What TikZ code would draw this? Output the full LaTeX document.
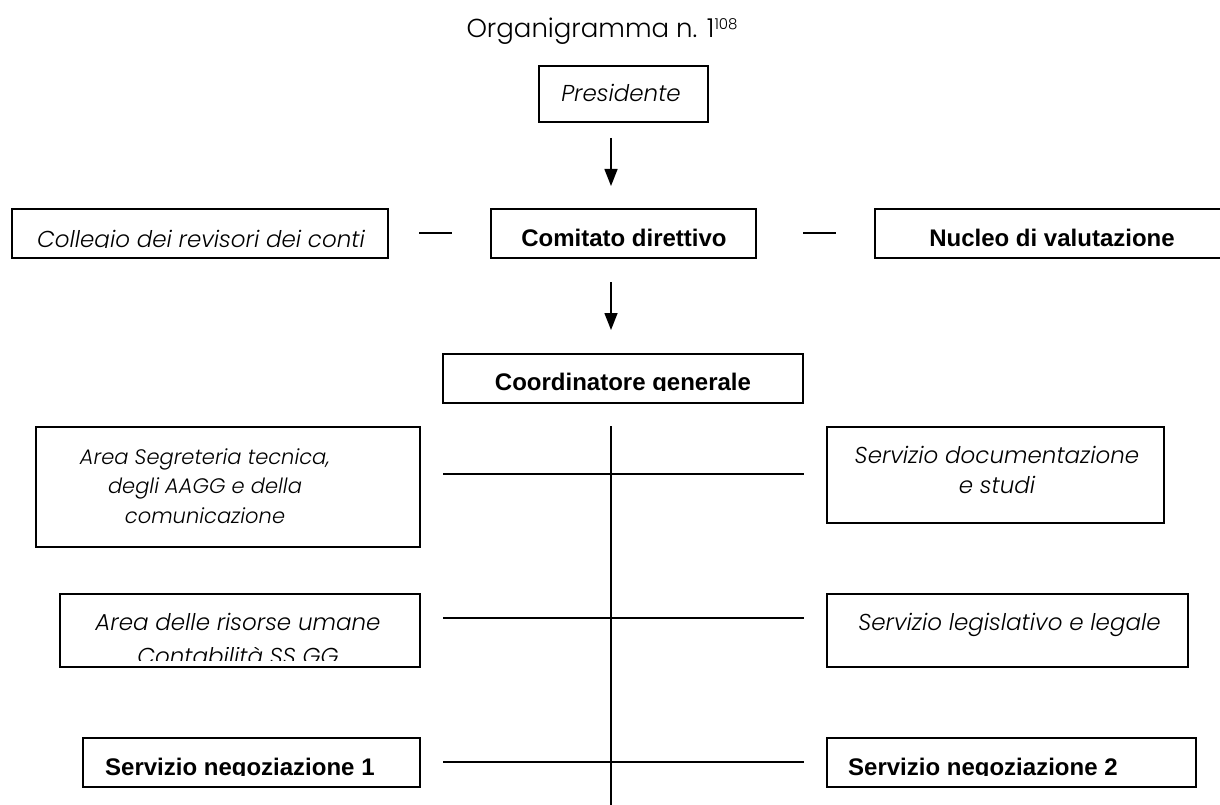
\documentclass[tikz,border=0pt]{standalone}
\usepackage{fontspec}
\usepackage{trimclip}
\usetikzlibrary{arrows.meta}
\newfontfamily\gothic{Poppins Light}[ItalicFont={Poppins Light Italic}]
\newfontfamily\arial{Liberation Sans}
\newcommand{\cutg}[1]{\clipbox{0pt {\depth} 0pt 0pt}{#1}}
\newcommand{\cutb}[2]{\clipbox{0pt #1 0pt 0pt}{#2}}
\begin{document}
\begin{tikzpicture}[x=1pt,y=-1pt,
  box/.style={draw, line width=1.4pt, inner sep=0pt},
  conn/.style={line width=1.5pt},
  arr/.style={line width=1.5pt, -{Triangle[width=13pt,length=17pt]}},
  itx/.style={font=\gothic\itshape\fontsize{23}{30}\selectfont, align=center, inner sep=0pt},
  itsmall/.style={font=\gothic\itshape\fontsize{21}{29.5}\selectfont, align=center, inner sep=0pt},
  bfx/.style={font=\arial\bfseries\fontsize{24}{30}\selectfont, inner sep=0pt},
]
\useasboundingbox (0,0) rectangle (1220,805);
\node[font=\gothic\fontsize{26}{30}\selectfont, anchor=base, inner sep=0pt] (title) at (602,38) {Organigramma n. 1\raisebox{8pt}{\fontsize{15}{15}\selectfont 108}};

% boxes
\node[box, minimum width=169pt, minimum height=56pt] (pres) at (623.5,94) {};
\node[itx] (pres-t) at (621,93) {Presidente};

\node[box, minimum width=376pt, minimum height=49pt] (coll) at (200,233.5) {};
\node[itx, anchor=base] (coll-t) at (201,247) {\cutg{Collegio dei revisori dei conti}};

\node[box, minimum width=265pt, minimum height=49pt] (com) at (623.5,233.5) {};
\node[bfx, anchor=base] (com-t) at (624,246) {Comitato direttivo};

\node[box, minimum width=354pt, minimum height=49pt] (nuc) at (1052,233.5) {};
\node[bfx, anchor=base] (nuc-t) at (1052,246) {Nucleo di valutazione};

\node[box, minimum width=360pt, minimum height=49pt] (coord) at (623,378.5) {};
\node[bfx, anchor=base] (coord-t) at (623,390) {\cutg{Coordinatore generale}};

\node[box, minimum width=384pt, minimum height=120pt] (seg) at (228,487) {};
\node[itsmall] (seg-t) at (205,486) {Area Segreteria tecnica,\\degli AAGG e della\\comunicazione};

\node[box, minimum width=337pt, minimum height=96pt] (doc) at (995.5,475) {};
\node[itx] (doc-t) at (997,470) {Servizio documentazione\\e studi};

\node[box, minimum width=360pt, minimum height=73pt] (ris) at (240,630.5) {};
\node[itx, anchor=base] (ris-t1) at (238,630) {Area delle risorse umane};
\node[itx, anchor=base] (ris-t2) at (238,660) {\cutb{5pt}{Contabilità SS GG}};

\node[box, minimum width=361pt, minimum height=73pt] (leg) at (1007.5,630.5) {};
\node[itx, anchor=base] (leg-t) at (1009.5,630) {Servizio legislativo e legale};

\node[box, minimum width=337pt, minimum height=49pt] (neg1) at (251.5,762.5) {};
\node[bfx, anchor=base west] (neg1-t) at (105,775) {\cutg{Servizio negoziazione 1}};

\node[box, minimum width=369pt, minimum height=49pt] (neg2) at (1011.5,762.5) {};
\node[bfx, anchor=base west] (neg2-t) at (848,775) {\cutg{Servizio negoziazione 2}};

% connectors
\coordinate (a1s) at (611,138); \coordinate (a1e) at (611,186);
\draw[arr] (a1s) -- (a1e);
\coordinate (a2s) at (611,282); \coordinate (a2e) at (611,330);
\draw[arr] (a2s) -- (a2e);

\coordinate (d1s) at (419,233); \coordinate (d1e) at (452,233);
\draw[conn] (d1s) -- (d1e);
\coordinate (d2s) at (803,233); \coordinate (d2e) at (836,233);
\draw[conn] (d2s) -- (d2e);

\coordinate (vs) at (611,426); \coordinate (ve) at (611,810);
\draw[conn] (vs) -- (ve);

\coordinate (h1s) at (443,474); \coordinate (h1e) at (804,474);
\draw[conn] (h1s) -- (h1e);
\coordinate (h2s) at (443,618); \coordinate (h2e) at (804,618);
\draw[conn] (h2s) -- (h2e);
\coordinate (h3s) at (443,762); \coordinate (h3e) at (804,762);
\draw[conn] (h3s) -- (h3e);
\end{tikzpicture}
\end{document}
